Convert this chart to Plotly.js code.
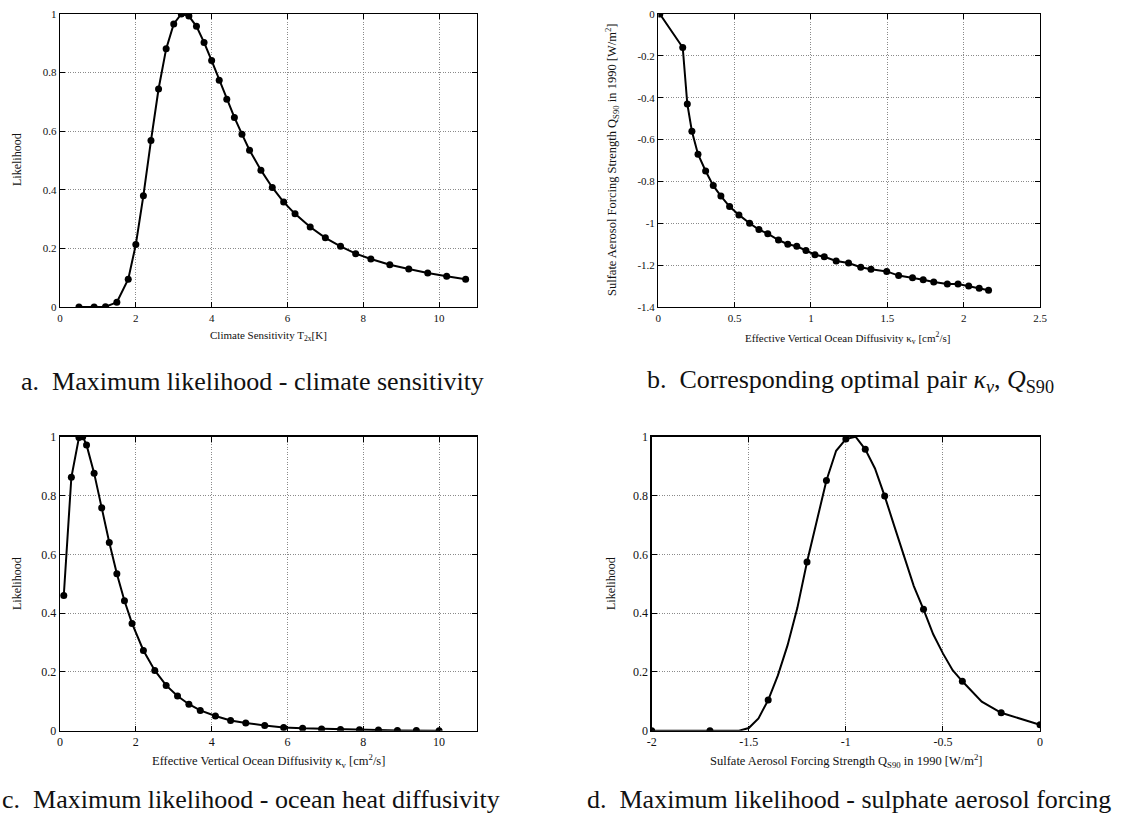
<!DOCTYPE html>
<html>
<head>
<meta charset="utf-8">
<script src="https://cdn.plot.ly/plotly-3.0.1.min.js"></script>
<style>html,body{margin:0;padding:0;background:#fff;}#chart{width:1122px;height:813px;}</style>
</head>
<body>
<div id="chart"></div>
<script>
// ---- Data ----
// a. Climate sensitivity likelihood
const sensX = [0.5, 0.9, 1.2, 1.5, 1.8, 2.0, 2.2, 2.4, 2.6, 2.8, 3.0, 3.2, 3.4, 3.6, 3.8, 4.0, 4.2, 4.4, 4.6, 4.8, 5.0, 5.3, 5.6, 5.9, 6.2, 6.6, 7.0, 7.4, 7.8, 8.2, 8.7, 9.2, 9.7, 10.2, 10.7];
const sensY = [0, 0, 0.001, 0.016, 0.095, 0.213, 0.38, 0.568, 0.744, 0.881, 0.966, 1.0, 0.993, 0.958, 0.903, 0.841, 0.774, 0.709, 0.647, 0.59, 0.535, 0.467, 0.408, 0.358, 0.318, 0.273, 0.236, 0.207, 0.182, 0.164, 0.144, 0.13, 0.116, 0.105, 0.095];

// b. Optimal pair kappa_v, Q_S90
const pairKv = [0.01, 0.16, 0.19, 0.22, 0.26, 0.31, 0.36, 0.41, 0.467, 0.528, 0.598, 0.659, 0.717, 0.787, 0.848, 0.907, 0.967, 1.026, 1.087, 1.165, 1.246, 1.326, 1.393, 1.496, 1.574, 1.665, 1.735, 1.804, 1.893, 1.963, 2.033, 2.102, 2.163];
const pairQ = [0, -0.16, -0.43, -0.56, -0.67, -0.75, -0.82, -0.87, -0.92, -0.96, -1.0, -1.03, -1.05, -1.08, -1.1, -1.11, -1.13, -1.15, -1.16, -1.18, -1.19, -1.21, -1.22, -1.23, -1.25, -1.26, -1.27, -1.28, -1.29, -1.29, -1.3, -1.31, -1.32];

// c. Ocean diffusivity likelihood
const diffX = [0.1, 0.3, 0.5, 0.6, 0.7, 0.9, 1.1, 1.3, 1.5, 1.7, 1.9, 2.2, 2.5, 2.8, 3.1, 3.4, 3.7, 4.1, 4.5, 4.9, 5.4, 5.9, 6.4, 6.9, 7.4, 7.9, 8.4, 8.9, 9.4, 10.0];
const diffY = [0.46, 0.862, 0.997, 1.0, 0.972, 0.876, 0.758, 0.64, 0.534, 0.442, 0.365, 0.273, 0.205, 0.154, 0.118, 0.09, 0.069, 0.05, 0.035, 0.026, 0.018, 0.011, 0.008, 0.006, 0.004, 0.003, 0.002, 0.001, 0.001, 0];

// d. Sulfate aerosol forcing likelihood (curve and marked points)
const aerCurveX = [-2, -1.7, -1.55, -1.5, -1.45, -1.4, -1.35, -1.3, -1.25, -1.2, -1.15, -1.1, -1.05, -1.0, -0.95, -0.9, -0.85, -0.8, -0.75, -0.7, -0.65, -0.6, -0.55, -0.5, -0.45, -0.4, -0.35, -0.3, -0.2, 0];
const aerCurveY = [0, 0, 0, 0.009, 0.042, 0.104, 0.188, 0.291, 0.417, 0.574, 0.712, 0.851, 0.952, 0.992, 1.0, 0.957, 0.892, 0.798, 0.695, 0.592, 0.492, 0.413, 0.328, 0.263, 0.206, 0.168, 0.133, 0.099, 0.061, 0.02];
const aerPtsX = [-2, -1.7, -1.4, -1.2, -1.1, -1.0, -0.9, -0.8, -0.6, -0.4, -0.2, 0];
const aerPtsY = [0, 0, 0.104, 0.574, 0.851, 0.992, 0.957, 0.798, 0.413, 0.168, 0.061, 0.02];

// tick labels
const likeTicks = [0, 0.2, 0.4, 0.6, 0.8, 1];
const likeTickText = ['0', '0.2', '0.4', '0.6', '0.8', '1'];
const wideTicks = [0, 2, 4, 6, 8, 10];
const wideTickText = ['0', '2', '4', '6', '8', '10'];
const kvTicks = [0, 0.5, 1, 1.5, 2, 2.5];
const kvTickText = ['0', '0.5', '1', '1.5', '2', '2.5'];
const qTicks = [0, -0.2, -0.4, -0.6, -0.8, -1, -1.2, -1.4];
const qTickText = ['0', '-0.2', '-0.4', '-0.6', '-0.8', '-1', '-1.2', '-1.4'];
const aerTicks = [-2, -1.5, -1, -0.5, 0];
const aerTickText = ['-2', '-1.5', '-1', '-0.5', '0'];

// ---- Layout helpers ----
const W = 1122, H = 813;
const fx = p => p / W;
const fy = p => 1 - p / H;
const FONT = '"Liberation Serif", "Times New Roman", serif';

function axis(domain, range, tv, tt, size) {
  return {
    domain: domain, range: range, tickvals: tv, ticktext: tt,
    showline: true, mirror: 'ticks', linecolor: '#000', linewidth: 1.3,
    ticks: 'inside', ticklen: 5, tickcolor: '#000', tickwidth: 1,
    showgrid: true, gridcolor: '#8a8a8a', griddash: '1px,1.5px', gridwidth: 1,
    zeroline: false, automargin: false,
    tickfont: {family: FONT, size: size, color: '#111'}
  };
}

const lineStyle = {color: '#000', width: 2};
const mk = {color: '#000', size: 7};

const traces = [
  {x: sensX, y: sensY, xaxis: 'x', yaxis: 'y', mode: 'lines+markers', line: lineStyle, marker: mk},
  {x: pairKv, y: pairQ, xaxis: 'x2', yaxis: 'y2', mode: 'lines+markers', line: lineStyle, marker: mk},
  {x: diffX, y: diffY, xaxis: 'x3', yaxis: 'y3', mode: 'lines+markers', line: lineStyle, marker: mk},
  {x: aerCurveX, y: aerCurveY, xaxis: 'x4', yaxis: 'y4', mode: 'lines', line: lineStyle},
  {x: aerPtsX, y: aerPtsY, xaxis: 'x4', yaxis: 'y4', mode: 'markers', marker: mk}
];

function ann(text, x, y, size, angle, anchor) {
  return {text: text, x: fx(x), y: fy(y), xref: 'paper', yref: 'paper',
    xanchor: anchor || 'center', yanchor: 'middle', showarrow: false, textangle: angle || 0,
    font: {family: FONT, size: size, color: '#111'}};
}

const topDom = [fy(307), fy(14)];
const botDom = [fy(730.7), fy(436.7)];

const layout = {
  width: W, height: H, autosize: false,
  margin: {l: 0, r: 0, t: 0, b: 0},
  paper_bgcolor: '#fff', plot_bgcolor: '#fff',
  showlegend: false,
  xaxis: axis([fx(60), fx(477)], [0, 11], wideTicks, wideTickText, 11),
  yaxis: axis(topDom, [0, 1], likeTicks, likeTickText, 11),
  xaxis2: Object.assign(axis([fx(658.3), fx(1040)], [0, 2.5], kvTicks, kvTickText, 11), {anchor: 'y2'}),
  yaxis2: Object.assign(axis(topDom, [-1.4, 0], qTicks, qTickText, 11), {anchor: 'x2'}),
  xaxis3: Object.assign(axis([fx(60), fx(477)], [0, 11], wideTicks, wideTickText, 12), {anchor: 'y3'}),
  yaxis3: Object.assign(axis(botDom, [0, 1], likeTicks, likeTickText, 12), {anchor: 'x3'}),
  xaxis4: Object.assign(axis([fx(651.7), fx(1040)], [-2, 0], aerTicks, aerTickText, 12), {anchor: 'y4'}),
  yaxis4: Object.assign(axis(botDom, [0, 1], likeTicks, likeTickText, 12), {anchor: 'x4'}),
  annotations: [
    ann('Climate Sensitivity T<sub>2x</sub>[K]', 268, 336, 11),
    ann('Likelihood', 17, 160, 12, -90),
    ann('Effective Vertical Ocean Diffusivity κ<sub>v</sub> [cm<sup>2</sup>/s]', 848, 338, 11),
    ann('Sulfate Aerosol Forcing Strength Q<sub>S90</sub> in 1990 [W/m<sup>2</sup>]', 612, 160, 12.5, -90),
    ann('Effective Vertical Ocean Diffusivity κ<sub>v</sub> [cm<sup>2</sup>/s]', 268, 761, 12.5),
    ann('Likelihood', 17, 584, 12, -90),
    ann('Sulfate Aerosol Forcing Strength Q<sub>S90</sub> in 1990 [W/m<sup>2</sup>]', 846, 761, 12.5),
    ann('Likelihood', 611, 584, 12, -90),
    ann('a.  Maximum likelihood - climate sensitivity', 252, 381, 26),
    ann('b.  Corresponding optimal pair <i>κ<sub>v</sub></i>, <i>Q</i><sub>S90</sub>', 850, 381, 26),
    ann('c.  Maximum likelihood - ocean heat diffusivity', 0, 799, 26, 0, 'left'),
    ann('d.  Maximum likelihood - sulphate aerosol forcing', 849, 799, 26)
  ]
};

Plotly.newPlot('chart', traces, layout, {displayModeBar: false, staticPlot: true});
</script>
</body>
</html>
